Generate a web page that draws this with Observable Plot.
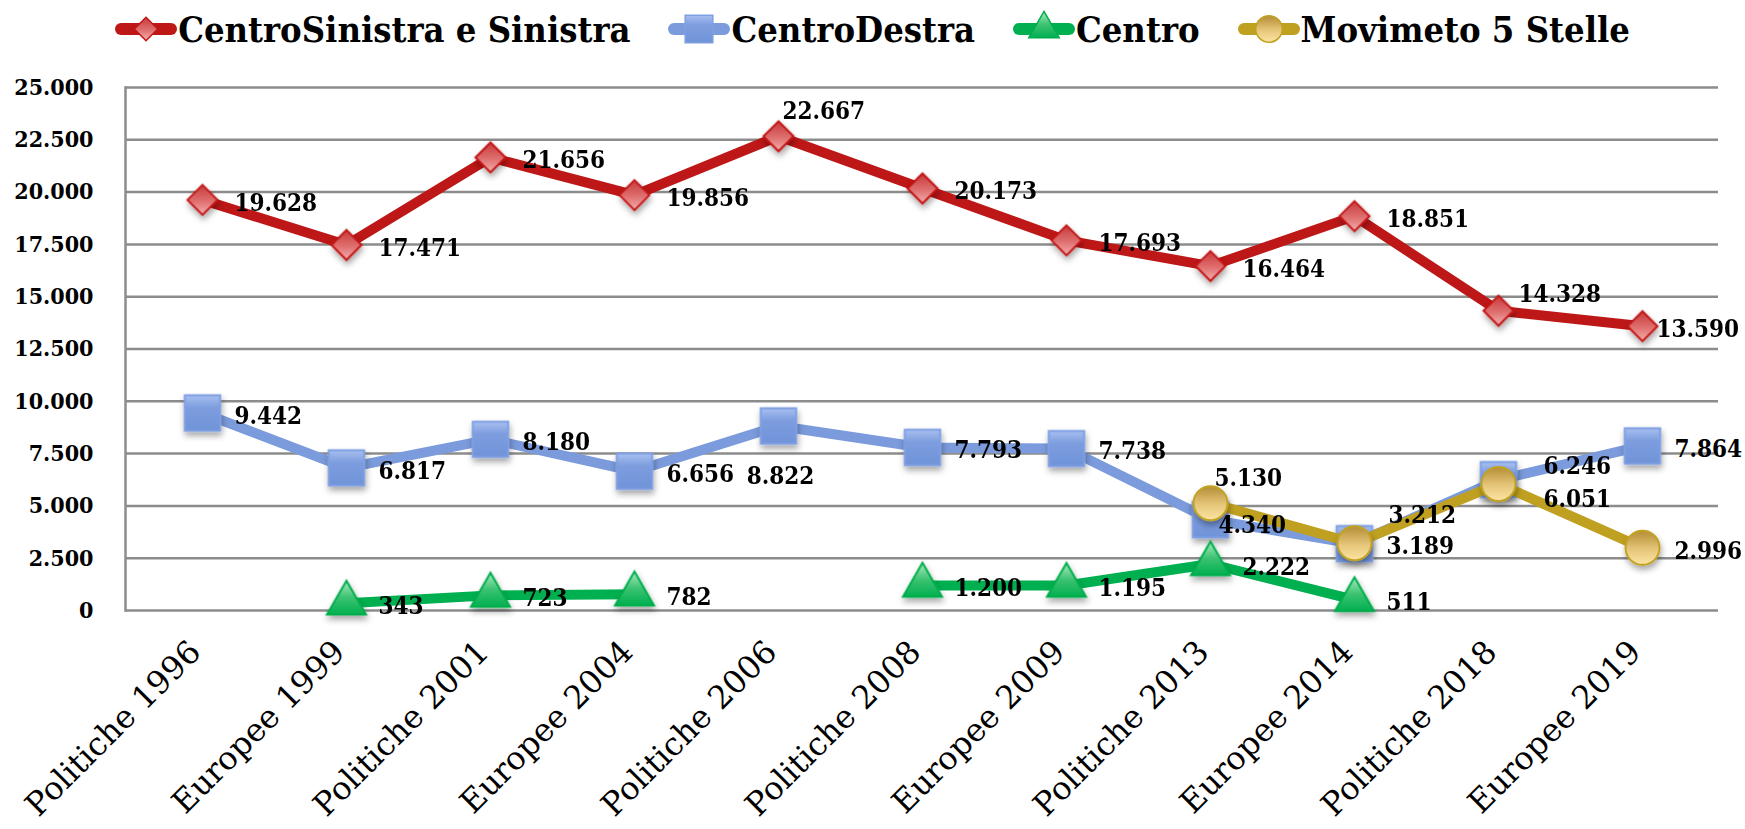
<!DOCTYPE html>
<html>
<head>
<meta charset="utf-8">
<script src="https://cdn.jsdelivr.net/npm/d3@7"></script>
<script src="https://cdn.jsdelivr.net/npm/@observablehq/plot@0.6"></script>
<style>
  html, body { margin: 0; padding: 0; background: #fff; }
  #legend {
    display: flex; justify-content: center; align-items: center;
    height: 58px; gap: 38px; padding-top: 0px;
    font-family: "DejaVu Serif Condensed", "DejaVu Serif", serif;
    font-stretch: condensed;
    font-weight: bold; font-size: 36px; color: #000;
  }
  .item { display: flex; align-items: center; }
  .item svg { margin-right: 1px; overflow: visible; }
</style>
</head>
<body>
<svg width="0" height="0" style="position:absolute">
  <defs>
    <linearGradient id="gRed" x1="0" y1="0" x2="0" y2="1">
      <stop offset="0%" stop-color="#c83a3a"/>
      <stop offset="55%" stop-color="#e07070"/>
      <stop offset="100%" stop-color="#f4b0b0"/>
    </linearGradient>
    <linearGradient id="gBlue" x1="0" y1="0" x2="0" y2="1">
      <stop offset="0%" stop-color="#a9c0f0"/>
      <stop offset="35%" stop-color="#7d9ddf"/>
      <stop offset="100%" stop-color="#7094d9"/>
    </linearGradient>
    <linearGradient id="gGreen" x1="0" y1="0" x2="0" y2="1">
      <stop offset="0%" stop-color="#a8ecbe"/>
      <stop offset="50%" stop-color="#3cc271"/>
      <stop offset="100%" stop-color="#00b050"/>
    </linearGradient>
    <linearGradient id="gGold" x1="0" y1="0" x2="0" y2="1">
      <stop offset="0%" stop-color="#b48d36"/>
      <stop offset="55%" stop-color="#e6c77a"/>
      <stop offset="100%" stop-color="#fbe4a2"/>
    </linearGradient>
    <filter id="shadow" x="-50%" y="-50%" width="200%" height="200%">
      <feDropShadow dx="1" dy="4" stdDeviation="3" flood-color="#000" flood-opacity="0.35"/>
    </filter>
  </defs>
</svg>
<div id="legend"></div>
<div id="chart"></div>
<script>
// ---- data ----
const categories = [
  "Politiche 1996", "Europee 1999", "Politiche 2001", "Europee 2004",
  "Politiche 2006", "Politiche 2008", "Europee 2009", "Politiche 2013",
  "Europee 2014", "Politiche 2018", "Europee 2019"
];
const seriesNames = ["CentroSinistra e Sinistra", "CentroDestra", "Centro", "Movimeto 5 Stelle"];
const centroSinistra = [19628, 17471, 21656, 19856, 22667, 20173, 17693, 16464, 18851, 14328, 13590];
const centroDestra   = [9442, 6817, 8180, 6656, 8822, 7793, 7738, 4340, 3189, 6246, 7864];
const centro         = [null, 343, 723, 782, null, 1200, 1195, 2222, 511, null, null];
const m5s            = [null, null, null, null, null, null, null, 5130, 3212, 6051, 2996];
const yTicks = [0, 2500, 5000, 7500, 10000, 12500, 15000, 17500, 20000, 22500, 25000];

// data-label placement (named, like the spreadsheet's label positions)
const placeSinistra = ["right", "right", "right", "right", "above", "right", "right", "right", "right", "upRight", "near"];
const placeDestra   = ["right", "right", "right", "right", "below", "right", "right", "inside", "right", "farUp", "right"];
const placeCentro   = ["right", "right", "right", "right", "right", "right", "right", "right", "right", "right", "right"];
const placeM5s      = ["right", "right", "right", "right", "right", "right", "right", "above", "aboveFar", "farDown", "right"];

// ---- styles ----
const styles = {
  "CentroSinistra e Sinistra": {line: "#be1717", symbol: "diamond2", r: 13.5, fill: "url(#gRed)", stroke: "#c21616"},
  "CentroDestra": {line: "#7b9bdc", symbol: "square", r: 20, fill: "url(#gBlue)", stroke: "#7f9fe2"},
  "Centro": {line: "#00b050", symbol: "triangle", r: 14.5, fill: "url(#gGreen)", stroke: "#00ad4c"},
  "Movimeto 5 Stelle": {line: "#c0a020", symbol: "circle", r: 17, fill: "url(#gGold)", stroke: "#c2a224"}
};
const placements = {
  right:    {dx: 32, dy: 3, anchor: "start"},
  near:     {dx: 14, dy: 3, anchor: "start"},
  inside:   {dx: 8, dy: 6, anchor: "start"},
  above:    {dx: 4, dy: -25, anchor: "start"},
  upRight:  {dx: 20, dy: -16, anchor: "start"},
  aboveFar: {dx: 34, dy: -28, anchor: "start"},
  farUp:    {dx: 45, dy: -14, anchor: "start"},
  farDown:  {dx: 45, dy: 15, anchor: "start"},
  below:    {dx: 2, dy: 50, anchor: "middle"}
};
const seriesValues = [centroSinistra, centroDestra, centro, m5s];
const seriesPlaces = [placeSinistra, placeDestra, placeCentro, placeM5s];

const rows = [];
seriesNames.forEach((name, s) => {
  categories.forEach((c, i) => rows.push({series: name, cat: c, v: seriesValues[s][i], place: seriesPlaces[s][i]}));
});

const locale = d3.formatLocale({decimal: ",", thousands: ".", grouping: [3], currency: ["", "€"]});
const fmt = locale.format(",d");

const FONT_B = "'DejaVu Serif Condensed', 'DejaVu Serif', serif";
const FONT_X = "'DejaVu Serif', serif";

// ---- legend ----
const legend = d3.select("#legend");
seriesNames.forEach(name => {
  const st = styles[name];
  const item = legend.append("div").attr("class", "item");
  const svg = item.append("svg").attr("width", 62).attr("height", 34);
  svg.append("line").attr("x1", 6).attr("x2", 56).attr("y1", 17).attr("y2", 17)
    .attr("stroke", st.line).attr("stroke-width", 12).attr("stroke-linecap", "round");
  const sym = {diamond2: d3.symbolDiamond2, square: d3.symbolSquare, triangle: d3.symbolTriangle, circle: d3.symbolCircle}[st.symbol];
  const size = Math.PI * Math.pow(st.r * 0.78, 2);
  svg.append("path").attr("d", d3.symbol(sym, size)())
    .attr("transform", "translate(31,17)")
    .attr("fill", st.fill).attr("stroke", st.stroke).attr("stroke-width", 1.5);
  item.append("span").text(name);
});

// ---- chart ----
const marks = [
  Plot.gridY(yTicks, {stroke: "#8c8c8c", strokeOpacity: 1, strokeWidth: 2.5}),
  Plot.frame({anchor: "left", stroke: "#8c8c8c", strokeWidth: 2.5}),
  Plot.axisY(yTicks, {tickSize: 0, tickPadding: 32, tickFormat: fmt, fontSize: 23, fontWeight: "bold", fontFamily: FONT_B, fill: "#000"}),
  Plot.axisX({tickRotate: -45, tickSize: 0, tickPadding: 40, dy: -4, dx: -7, fontSize: 32, fontFamily: FONT_X, fill: "#000"})
];
seriesNames.forEach(name => {
  const st = styles[name];
  const data = rows.filter(d => d.series === name);
  marks.push(Plot.line(data, {x: "cat", y: "v", stroke: st.line, strokeWidth: 10, strokeLinejoin: "round"}));
  marks.push(Plot.dot(data.filter(d => d.v != null), {x: "cat", y: "v", symbol: st.symbol, r: st.r, fill: st.fill, stroke: st.stroke, strokeWidth: 2}));
});
Object.entries(placements).forEach(([key, p]) => {
  marks.push(Plot.text(rows.filter(d => d.v != null && d.place === key), {
    x: "cat", y: "v", text: d => fmt(d.v), textAnchor: p.anchor, dx: p.dx, dy: p.dy,
    fontSize: 24, fontWeight: "bold", fontFamily: FONT_B, fill: "#000"
  }));
});

const chart = Plot.plot({
  width: 1745,
  height: 771,
  marginTop: 29,
  marginBottom: 219,
  marginLeft: 125,
  marginRight: 27,
  x: {type: "point", domain: categories, padding: 0.5, label: null},
  y: {domain: [0, 25000], label: null},
  marks
});
d3.select(chart).selectAll('g[aria-label="dot"]').attr("filter", "url(#shadow)");
document.getElementById("chart").appendChild(chart);
</script>
</body>
</html>
